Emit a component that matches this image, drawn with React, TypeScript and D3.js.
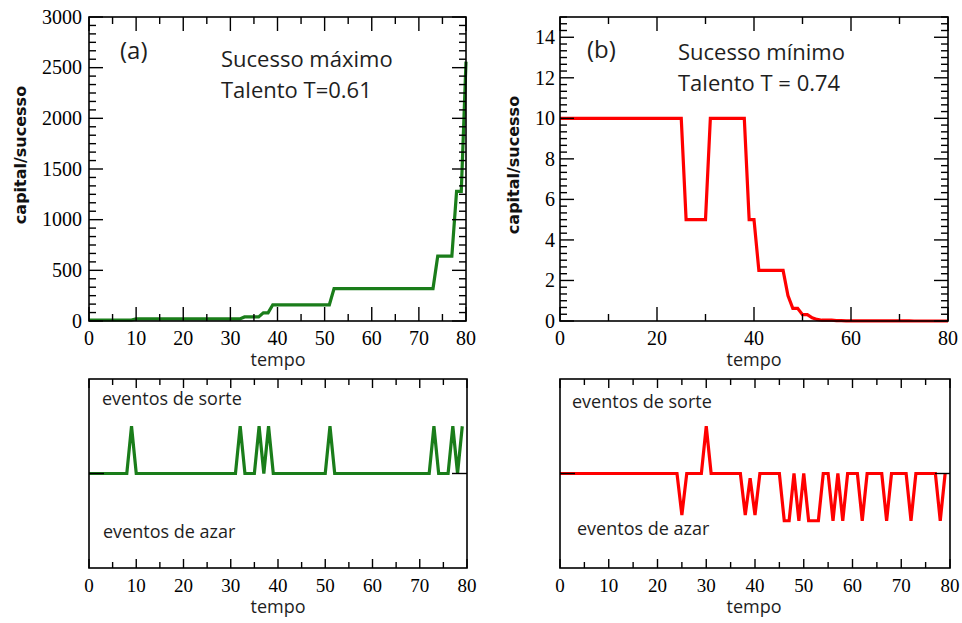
import React from 'react';
import * as d3 from 'd3';

// capital/sucesso per time step (t = 0..80)
const capitalMax = [
  10, 10, 10, 10, 10, 10, 10, 10, 10, 10,
  20, 20, 20, 20, 20, 20, 20, 20, 20, 20,
  20, 20, 20, 20, 20, 20, 20, 20, 20, 20,
  20, 20, 20, 40, 40, 40, 40, 80, 80, 160,
  160, 160, 160, 160, 160, 160, 160, 160, 160, 160,
  160, 160, 320, 320, 320, 320, 320, 320, 320, 320,
  320, 320, 320, 320, 320, 320, 320, 320, 320, 320,
  320, 320, 320, 320, 640, 640, 640, 640, 1280, 1280,
  2560,
];

const capitalMin = [
  10, 10, 10, 10, 10, 10, 10, 10, 10, 10,
  10, 10, 10, 10, 10, 10, 10, 10, 10, 10,
  10, 10, 10, 10, 10, 10, 5, 5, 5, 5,
  5, 10, 10, 10, 10, 10, 10, 10, 10, 5,
  5, 2.5, 2.5, 2.5, 2.5, 2.5, 2.5, 1.25, 0.625, 0.625,
  0.3125, 0.3125, 0.156, 0.078, 0.039, 0.039, 0.039, 0.02, 0.02, 0.01,
  0.01, 0.01, 0.01, 0.005, 0.005, 0.005, 0.005, 0.005, 0.002, 0.002,
  0.002, 0.002, 0.002, 0.001, 0.001, 0.001, 0.001, 0.001, 0.001, 0.001,
  0.001,
];

// events per time step (t = 0..79): +1 sorte, negative azar
const eventsMax = [
  0, 0, 0, 0, 0, 0, 0, 0, 0, 1,
  0, 0, 0, 0, 0, 0, 0, 0, 0, 0,
  0, 0, 0, 0, 0, 0, 0, 0, 0, 0,
  0, 0, 1, 0, 0, 0, 1, 0, 1, 0,
  0, 0, 0, 0, 0, 0, 0, 0, 0, 0,
  0, 1, 0, 0, 0, 0, 0, 0, 0, 0,
  0, 0, 0, 0, 0, 0, 0, 0, 0, 0,
  0, 0, 0, 1, 0, 0, 0, 1, 0, 1,
];

const eventsMin = [
  0, 0, 0, 0, 0, 0, 0, 0, 0, 0,
  0, 0, 0, 0, 0, 0, 0, 0, 0, 0,
  0, 0, 0, 0, 0, -0.88, 0, 0, 0, 0,
  1, 0, 0, 0, 0, 0, 0, 0, -0.88, -0.1,
  -0.88, 0, 0, 0, 0, 0, -1, -1, 0, -1,
  0, -1, -1, -1, 0, 0, -1, 0, -1, 0,
  0, 0, -1, 0, 0, 0, 0, -1, 0, 0,
  0, 0, -1, 0, 0, 0, 0, 0, -1, 0,
];

const xTicks10 = [0, 10, 20, 30, 40, 50, 60, 70, 80];
const xTicks20 = [0, 20, 40, 60, 80];
const yTicksMax = [0, 500, 1000, 1500, 2000, 2500, 3000];
const yTicksMin = [0, 2, 4, 6, 8, 10, 12, 14];

const GREEN = '#1a7d1a';
const RED = '#ff0000';
const SERIF = '"Liberation Serif", "Times New Roman", serif';
const SANS = '"Open Sans", sans-serif';

type Box = { l: number; r: number; t: number; b: number };

function minorTicks(major: number[], sub: number, max: number) {
  const step = (major[1] - major[0]) / sub;
  return d3.range(0, max + step / 2, step).filter(v => !major.some(m => Math.abs(m - v) < 1e-6));
}

function Panel({
  box, yDomain, xMajor, xSub, yMajor, ySub, values, color,
  majLen, minLen, showY, tickFont, yLabelDx,
}: {
  box: Box; yDomain: [number, number]; xMajor: number[]; xSub: number;
  yMajor: number[]; ySub: number; values: number[]; color: string;
  majLen: number; minLen: number; showY: boolean; tickFont: number; yLabelDx: number;
}) {
  const x = d3.scaleLinear().domain([0, 80]).range([box.l, box.r]);
  const y = d3.scaleLinear().domain(yDomain).range([box.b, box.t]);
  const line = d3.line<number>().x((_, i) => x(i)).y(d => y(d));
  const xMinor = minorTicks(xMajor, xSub, 80);
  const yMinor = ySub > 0 ? minorTicks(yMajor, ySub, yDomain[1]) : [];
  const tick = { stroke: '#000', strokeWidth: 1.4 };
  return (
    <g>
      <path d={line(values) || ''} fill="none" stroke={color} strokeWidth={3.2} strokeLinejoin="miter" />
      {xMajor.map(v => (
        <g key={'xM' + v}>
          <line x1={x(v)} x2={x(v)} y1={box.b} y2={box.b - majLen} {...tick} />
          <line x1={x(v)} x2={x(v)} y1={box.t} y2={box.t + majLen} {...tick} />
          <text x={x(v)} y={box.b + 24} textAnchor="middle" fontFamily={SERIF} fontSize={tickFont}>{v}</text>
        </g>
      ))}
      {xMinor.map(v => (
        <g key={'xm' + v}>
          <line x1={x(v)} x2={x(v)} y1={box.b} y2={box.b - minLen} {...tick} />
          <line x1={x(v)} x2={x(v)} y1={box.t} y2={box.t + minLen} {...tick} />
        </g>
      ))}
      {yMajor.map(v => (
        <g key={'yM' + v}>
          <line x1={box.l} x2={box.l + (showY ? 14 : 15)} y1={y(v)} y2={y(v)} {...tick} />
          <line x1={box.r} x2={box.r - (showY ? 14 : 15)} y1={y(v)} y2={y(v)} {...tick} />
          {showY && (
            <text x={box.l - yLabelDx} y={y(v)} dy="0.34em" textAnchor="end" fontFamily={SERIF} fontSize={20}>{v}</text>
          )}
        </g>
      ))}
      {yMinor.map(v => (
        <g key={'ym' + v}>
          <line x1={box.l} x2={box.l + 7} y1={y(v)} y2={y(v)} {...tick} />
          <line x1={box.r} x2={box.r - 7} y1={y(v)} y2={y(v)} {...tick} />
        </g>
      ))}
      <rect x={box.l} y={box.t} width={box.r - box.l} height={box.b - box.t} fill="none" stroke="#000" strokeWidth={1.6} />
    </g>
  );
}

const App = () => {
  const topA: Box = { l: 89, r: 466, t: 17, b: 321 };
  const topB: Box = { l: 560, r: 948, t: 17, b: 321 };
  const botA: Box = { l: 89, r: 467, t: 379, b: 568 };
  const botB: Box = { l: 560, r: 950, t: 379, b: 568 };
  const txt = { fontFamily: SANS, fill: '#1e1e1e' };
  const axisT = { fontFamily: SANS, fontSize: 18, fill: '#1e1e1e', textAnchor: 'middle' as const };
  const yTitle = { fontFamily: '"DejaVu Sans", sans-serif', fontWeight: 'bold' as const, fontSize: 16, fill: '#111', textAnchor: 'middle' as const };
  return (
    <svg width={962} height={623} style={{ position: 'absolute', left: 0, top: 0, background: '#fff' }}>
      <rect width={962} height={623} fill="#fff" />
      <Panel box={topA} yDomain={[0, 3000]} xMajor={xTicks10} xSub={2} yMajor={yTicksMax} ySub={6}
        values={capitalMax} color={GREEN} majLen={14} minLen={7} showY tickFont={20} yLabelDx={7} />
      <Panel box={topB} yDomain={[0, 15]} xMajor={xTicks20} xSub={2} yMajor={yTicksMin} ySub={6}
        values={capitalMin} color={RED} majLen={14} minLen={7} showY tickFont={20} yLabelDx={5} />
      <Panel box={botA} yDomain={[-2, 2]} xMajor={xTicks10} xSub={2} yMajor={[0]} ySub={0}
        values={eventsMax} color={GREEN} majLen={9} minLen={6} showY={false} tickFont={19} yLabelDx={0} />
      <Panel box={botB} yDomain={[-2, 2]} xMajor={xTicks10} xSub={2} yMajor={[0]} ySub={0}
        values={eventsMin} color={RED} majLen={9} minLen={6} showY={false} tickFont={19} yLabelDx={0} />

      <text x={120} y={59} fontSize={24} {...txt}>(a)</text>
      <text x={221} y={67} fontSize={22} {...txt}>Sucesso máximo</text>
      <text x={221} y={98} fontSize={22} {...txt}>Talento T=0.61</text>
      <text x={587} y={58} fontSize={24} {...txt}>(b)</text>
      <text x={678} y={60} fontSize={22} {...txt}>Sucesso mínimo</text>
      <text x={678} y={91} fontSize={22} {...txt}>Talento T = 0.74</text>

      <text x={102} y={405} fontSize={18} {...txt}>eventos de sorte</text>
      <text x={103} y={538} fontSize={18} {...txt}>eventos de azar</text>
      <text x={572} y={408} fontSize={18} {...txt}>eventos de sorte</text>
      <text x={577} y={535} fontSize={18} {...txt}>eventos de azar</text>

      <text x={278} y={366} {...axisT}>tempo</text>
      <text x={754} y={366} {...axisT}>tempo</text>
      <text x={278} y={613} {...axisT}>tempo</text>
      <text x={754} y={613} {...axisT}>tempo</text>

      <text transform="translate(26,155) rotate(-90)" {...yTitle}>capital/sucesso</text>
      <text transform="translate(519,165) rotate(-90)" {...yTitle}>capital/sucesso</text>
    </svg>
  );
};

export default App;
